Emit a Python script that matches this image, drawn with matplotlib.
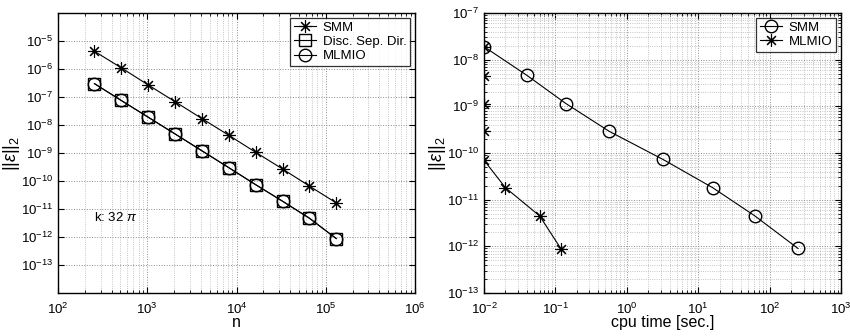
import numpy as np
import matplotlib.pyplot as plt
from matplotlib.ticker import LogLocator, NullFormatter

plt.rcParams['font.family'] = ['Liberation Sans', 'DejaVu Sans']
plt.rcParams['mathtext.fontset'] = 'custom'
plt.rcParams['mathtext.rm'] = 'Liberation Sans'
plt.rcParams['mathtext.it'] = 'Liberation Sans:italic'

# Erro em funcao do numero de pontos n
n = [256, 512, 1024, 2048, 4096, 8192, 16384, 32768, 65536, 131072]
err_smm_n = [4.3e-6, 1.1e-6, 2.7e-7, 6.8e-8, 1.7e-8, 4.3e-9, 1.06e-9, 2.7e-10, 6.6e-11, 1.65e-11]
err_disc_n = [3.0e-7, 7.5e-8, 1.9e-8, 4.8e-9, 1.2e-9, 3.0e-10, 7.4e-11, 1.9e-11, 4.7e-12, 8.8e-13]
err_mlmio_n = [3.0e-7, 7.5e-8, 1.9e-8, 4.8e-9, 1.2e-9, 3.0e-10, 7.4e-11, 1.9e-11, 4.7e-12, 8.8e-13]

# Erro em funcao do tempo de cpu
t_smm = [0.01, 0.04, 0.14, 0.57, 3.2, 16, 62, 250]
err_smm_t = [1.9e-8, 4.6e-9, 1.15e-9, 2.9e-10, 7.3e-11, 1.8e-11, 4.5e-12, 9.0e-13]
t_mlmio = [0.01, 0.01, 0.01, 0.01, 0.01, 0.02, 0.06, 0.12]
err_mlmio_t = [1.9e-8, 4.5e-9, 1.1e-9, 2.9e-10, 7.0e-11, 1.8e-11, 4.5e-12, 8.8e-13]

ASTER = (8, 2, 0)  # asterisco de 8 bracos

fig = plt.figure(figsize=(8.5, 3.36), dpi=100)
ax1 = fig.add_axes([58 / 850, 1 - 293 / 336, 357 / 850, 280 / 336])
ax2 = fig.add_axes([484 / 850, 1 - 293 / 336, 357 / 850, 280 / 336])


def estilo(ax):
	ax.grid(True, which='major', linestyle=':', color='0.55', linewidth=0.7)
	ax.grid(True, which='minor', linestyle=':', color='0.7', linewidth=0.6)
	ax.tick_params(which='both', direction='in', top=True, right=True, labelsize=9.5)
	ax.tick_params(which='major', length=4)
	ax.tick_params(which='minor', length=2)
	ax.tick_params(axis='x', pad=6)
	for s in ax.spines.values():
		s.set_linewidth(1.0)


def legenda(ax):
	leg = ax.legend(loc='upper right', fontsize=9.5, frameon=True, fancybox=False, edgecolor='k',
					borderpad=0.3, labelspacing=0.15, handlelength=1.7, handletextpad=0.5,
					borderaxespad=0.35)
	leg.get_frame().set_linewidth(0.9)


# Painel esquerdo
ax1.plot(n, err_smm_n, 'k-', marker=ASTER, markersize=9, markeredgewidth=0.8, linewidth=0.8,
		 label='SMM')
ax1.plot(n, err_disc_n, 'k-', marker='s', markersize=8, markerfacecolor='none', linewidth=0.8,
		 label='Disc. Sep. Dir.')
ax1.plot(n, err_mlmio_n, 'k-', marker='o', markersize=9, markerfacecolor='none', linewidth=0.8,
		 label='MLMIO')
ax1.set_xscale('log')
ax1.set_yscale('log')
ax1.set_xlim(1e2, 1e6)
ax1.set_ylim(1e-14, 1e-4)
ax1.set_xticks([1e2, 1e3, 1e4, 1e5, 1e6])
ax1.set_yticks([10.0 ** e for e in range(-13, -4)])
ax1.yaxis.set_minor_locator(LogLocator(base=10, subs=[]))
ax1.yaxis.set_minor_formatter(NullFormatter())
estilo(ax1)
ax1.set_xlabel('n', fontsize=11.5, labelpad=-1)
ax1.set_ylabel(r'$||\epsilon||_2$', fontsize=13)
ax1.yaxis.set_label_coords(-0.1, 0.5)
ax1.text(250, 5e-12, r'k: 32 $\pi$', fontsize=9.5, va='center')
legenda(ax1)

# Painel direito
ax2.plot(t_smm, err_smm_t, 'k-', marker='o', markersize=9, markerfacecolor='none', linewidth=0.8,
		 label='SMM')
ax2.plot(t_mlmio, err_mlmio_t, 'k-', marker=ASTER, markersize=9, markeredgewidth=0.8, linewidth=0.8,
		 label='MLMIO')
ax2.set_xscale('log')
ax2.set_yscale('log')
ax2.set_xlim(1e-2, 1e3)
ax2.set_ylim(1e-13, 1e-7)
ax2.set_xticks([10.0 ** e for e in range(-2, 4)])
ax2.set_yticks([10.0 ** e for e in range(-13, -6)])
estilo(ax2)
ax2.set_xlabel('cpu time [sec.]', fontsize=11.5, labelpad=-1)
ax2.set_ylabel(r'$||\epsilon||_2$', fontsize=13)
ax2.yaxis.set_label_coords(-0.1, 0.5)
legenda(ax2)

fig.savefig('out.png', dpi=100)
